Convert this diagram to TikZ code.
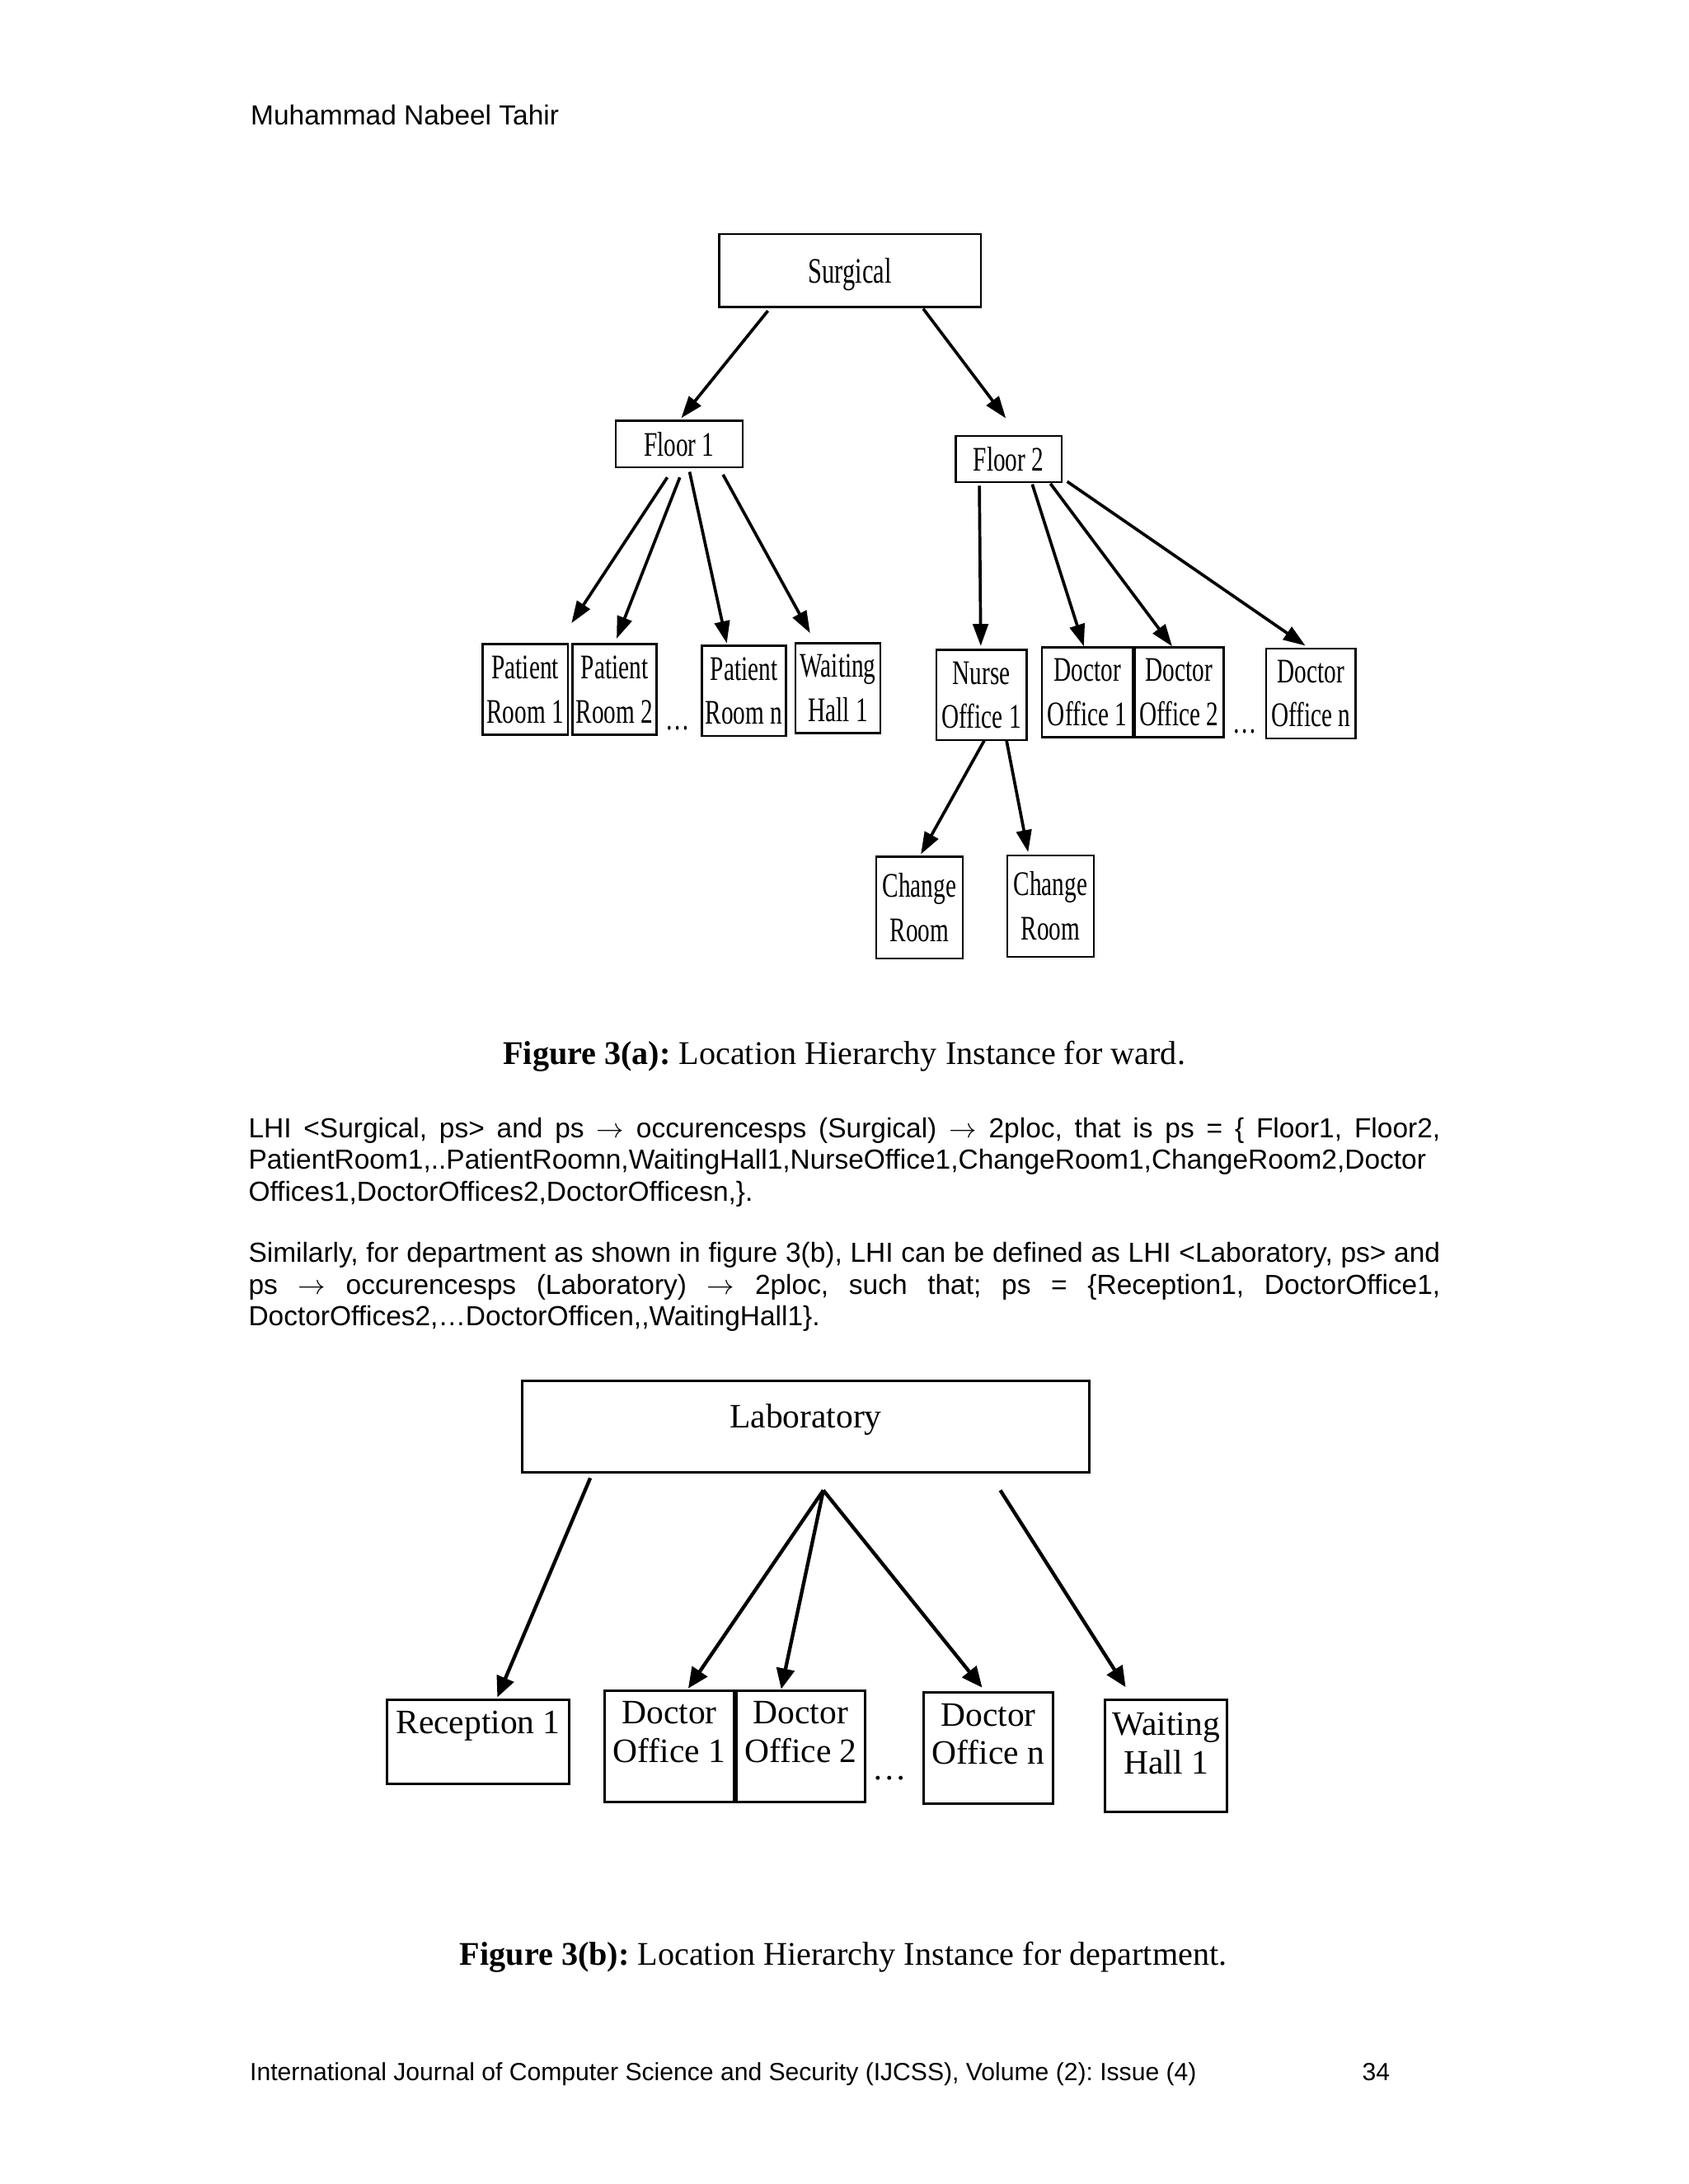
\documentclass[tikz,border=0pt]{standalone}
\usepackage{fontspec}
\setmainfont{Liberation Serif}
\newfontfamily\arialfont{Liberation Sans}
\newfontfamily\narrowfont[FakeStretch=0.7]{Liberation Serif}
\usetikzlibrary{arrows.meta,calc,positioning}
\frenchspacing

\newcommand{\twolines}[2]{\begin{tabular}[t]{@{}c@{}}#1\\#2\end{tabular}}

\tikzset{
  wardbox/.style={draw, line width=0.7pt, inner sep=0pt, align=center,
    font=\narrowfont\fontsize{12.5}{16}\selectfont},
  wardsize/.style 2 args={minimum width=#1*0.505pt, minimum height=#2*0.505pt},
  deptbox/.style={draw, line width=0.9pt, inner sep=0pt,
    font=\fontsize{12.4}{14}\selectfont},
  deptsize/.style n args={3}{minimum width=#1*0.505pt,
    text height=#2*0.505pt, text depth=#3*0.505pt},
  wardarrow/.style={-{Triangle[length=8pt,width=5.5pt]}, line width=1.1pt},
  deptarrow/.style={-{Triangle[length=7.5pt,width=6.5pt]}, line width=1.3pt},
  dotsmark/.style={inner sep=0pt, anchor=base},
  pagetext/.style={inner sep=0pt, anchor=base west,
    font=\arialfont\fontsize{10}{11.5}\selectfont},
  figcaption/.style={inner sep=0pt, anchor=base, font=\fontsize{12}{14}\selectfont},
}

\begin{document}
\begin{tikzpicture}[x=0.505pt, y=-0.505pt]
\path[use as bounding box, fill=white] (0,0) rectangle (1212,1568);

% running head
\node[pagetext] (head) at (179.6,89.7) {Muhammad Nabeel Tahir};

% figure 3(a): ward
\node[wardbox, wardsize={188}{52.5}, text height=10pt, text depth=1pt,
  font=\narrowfont\fontsize{13}{16}\selectfont] (surg) at (610.2,194.2) {Surgical};
\node[wardbox, wardsize={91}{33.5}] (fl1) at (487.5,318.8) {Floor 1};
\node[wardbox, wardsize={76}{33}] (fl2) at (724,329.5) {Floor 2};

\node[wardbox, wardsize={61}{65}] (pr1) at (377,495) {Patient\\Room 1};
\node[wardbox, wardsize={60.5}{65}, right=1pt of pr1] (pr2) {Patient\\Room 2};
\node[dotsmark, font=\narrowfont\fontsize{12.5}{16}\selectfont] (dots1) at (486.5,524) {…};
\node[wardbox, wardsize={60.5}{65}] (prn) at (534,496) {Patient\\Room n};
\node[wardbox, wardsize={61}{64.5}] (wh1) at (601.5,494) {Waiting\\Hall 1};

\node[wardbox, wardsize={65}{65}] (nur) at (704.5,499) {Nurse\\Office 1};
\node[wardbox, wardsize={65}{64.5}] (do1a) at (780.5,497) {Doctor\\Office 1};
\node[wardbox, wardsize={64}{64.5}, right=0pt of do1a] (do2a) {Doctor\\Office 2};
\node[dotsmark, font=\narrowfont\fontsize{12.5}{16}\selectfont] (dots2) at (893.5,526.6) {…};
\node[wardbox, wardsize={64}{64.5}] (dona) at (941,498) {Doctor\\Office n};

\node[wardbox, wardsize={62}{73}] (cr1) at (660,651.5) {Change\\Room};
\node[wardbox, wardsize={62}{73}] (cr2) at (754,650.5) {Change\\Room};

\draw[wardarrow] ($(surg.south)+(-59,2)$) -- ($(fl1.north)+(1.5,-1.2)$);
\draw[wardarrow] ($(surg.south)+(52.5,0.5)$) -- ($(fl2.north)+(-2,-12)$);

\draw[wardarrow] ($(fl1.south)+(-8.5,6.5)$) -- ($(pr1.north)+(33.2,-14.4)$);
\draw[wardarrow] ($(fl1.south)+(0.5,6.5)$) -- ($(pr2.north)+(1.5,-3.3)$);
\draw[wardarrow] ($(fl1.south)+(7.5,2.5)$) -- ($(prn.north)+(-12.3,-1)$);
\draw[wardarrow] ($(fl1.south)+(31.5,4.5)$) -- ($(wh1.north)+(-20,-6.5)$);

\draw[wardarrow] ($(fl2.south)+(-21,2)$) -- ($(nur.north)+(-0.5,-2)$);
\draw[wardarrow] ($(fl2.south)+(17,1)$) -- ($(do1a.north)+(-2.5,0)$);
\draw[wardarrow] ($(fl2.south)+(30,0.5)$) -- ($(do2a.north)+(-5,0)$);
\draw[wardarrow] ($(fl2.south)+(42,-1)$) -- ($(dona.north)+(-4,-1.5)$);

\draw[wardarrow] ($(nur.south)+(2,-0.5)$) -- ($(cr1.north)+(1,-1)$);
\draw[wardarrow] ($(nur.south)+(18,-0.5)$) -- ($(cr2.north)+(-16,-1.5)$);

\node[figcaption] (capa) at (606,764) {\textbf{Figure 3(a):} Location Hierarchy Instance for ward.};

% text between the figures
\node[pagetext] (para1) at (178,816.6) {\parbox[t]{432pt}{LHI <Surgical, ps> and ps $\rightarrow$ occurencesps (Surgical) $\rightarrow$ 2ploc, that is ps = \{ Floor1, Floor2,\linebreak
PatientRoom1,..PatientRoomn,WaitingHall1,NurseOffice1,ChangeRoom1,ChangeRoom2,Doctor\newline
Offices1,DoctorOffices2,DoctorOfficesn,\}.}};
\node[pagetext] (para2) at (178,906.3) {\parbox[t]{432pt}{Similarly, for department as shown in figure 3(b), LHI can be defined as LHI <Laboratory, ps> and\linebreak
ps $\rightarrow$ occurencesps (Laboratory) $\rightarrow$ 2ploc, such that; ps = \{Reception1, DoctorOffice1,\linebreak
DoctorOffices2,…DoctorOfficen,,WaitingHall1\}.}};

% figure 3(b): department
\node[deptbox, deptsize={407}{33.3}{32.4}] (lab) at (578.4,1024.4) {Laboratory};
\node[deptbox, deptsize={131}{24}{36.5}] (rec) at (343.2,1250.7) {Reception 1};
\node[deptbox, deptsize={93}{24}{56.4}] (doc1) at (480.5,1253.8) {\twolines{Doctor}{Office 1}};
\node[deptbox, deptsize={92}{24}{56.4}, right=0pt of doc1] (doc2) {\twolines{Doctor}{Office 2}};
\node[dotsmark, font=\fontsize{12.4}{14}\selectfont] (dots3) at (638.5,1277.5) {…};
\node[deptbox, deptsize={93}{24}{56}] (docn) at (709.5,1255) {\twolines{Doctor}{Office n}};
\node[deptbox, deptsize={88}{25.5}{55.3}] (wait2) at (837,1260.6) {\twolines{Waiting}{Hall 1}};

\coordinate (fork) at ($(lab.south)+(12.6,11.8)$);
\draw[deptarrow] ($(lab.south)+(-154.7,3)$) -- ($(rec.north)+(13.8,-1)$);
\draw[deptarrow] (fork) -- ($(doc1.north)+(13.5,-0.5)$);
\draw[deptarrow] (fork) -- ($(doc2.north)+(-14,0)$);
\draw[deptarrow] (fork) -- ($(docn.north)+(-4.5,-2.5)$);
\draw[deptarrow] ($(lab.south)+(139.6,11.8)$) -- ($(wait2.north)+(-29,-8)$);

\node[figcaption] (capb) at (605.4,1411) {\textbf{Figure 3(b):} Location Hierarchy Instance for department.};

% running foot
\node[pagetext, font=\arialfont\fontsize{9}{11}\selectfont] (foot) at (179,1494) {International Journal of Computer Science and Security (IJCSS), Volume (2): Issue (4)};
\node[pagetext, font=\arialfont\fontsize{9}{11}\selectfont] (pageno) at (977.5,1494) {34};
\end{tikzpicture}
\end{document}
